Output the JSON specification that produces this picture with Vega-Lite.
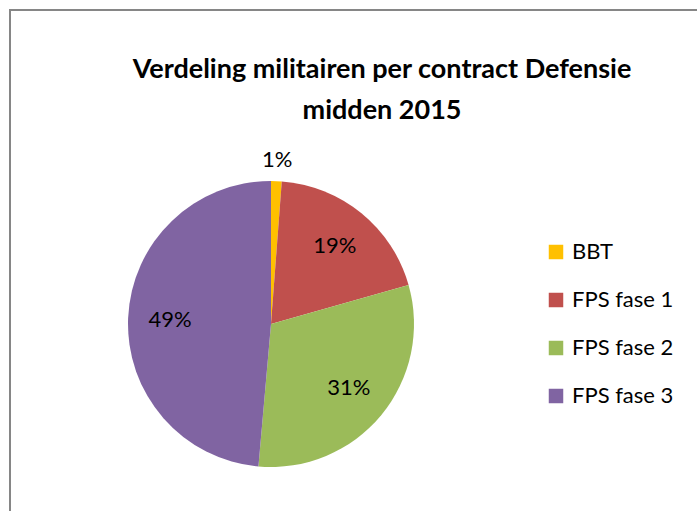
{
  "$schema": "https://vega.github.io/schema/vega-lite/v6.json",
  "autosize": {"type": "none"},
  "width": 700,
  "height": 510,
  "padding": {"left": 10, "top": 10, "right": 0, "bottom": 0},
  "background": "white",
  "config": {
    "view": {"stroke": "#868686", "strokeWidth": 2},
    "font": "Lato"
  },
  "title": {
    "text": ["Verdeling militairen per contract Defensie", "midden 2015"],
    "font": "Lato",
    "fontSize": 27,
    "fontWeight": "bold",
    "color": "#000000",
    "anchor": "middle",
    "lineHeight": 41,
    "baseline": "top",
    "offset": 0,
    "dx": 22,
    "dy": 115
  },
  "data": {
    "values": [
      {"categorie": "BBT", "aandeel": 0.012},
      {"categorie": "FPS fase 1", "aandeel": 0.194},
      {"categorie": "FPS fase 2", "aandeel": 0.308},
      {"categorie": "FPS fase 3", "aandeel": 0.486}
    ]
  },
  "encoding": {
    "theta": {"field": "aandeel", "type": "quantitative", "stack": true},
    "order": {"field": "categorie", "sort": "ascending"},
    "x": {"value": 261},
    "y": {"value": 314}
  },
  "layer": [
    {
      "mark": {"type": "arc", "outerRadius": 143},
      "encoding": {
        "color": {
          "field": "categorie",
          "type": "nominal",
          "scale": {
            "domain": ["BBT", "FPS fase 1", "FPS fase 2", "FPS fase 3"],
            "range": ["#FFC000", "#C0504D", "#9BBB59", "#8064A2"]
          },
          "legend": {
            "title": null,
            "orient": "none",
            "legendX": 535,
            "legendY": 231,
            "padding": 0,
            "symbolType": "square",
            "symbolSize": 210,
            "symbolStrokeWidth": 0,
            "labelFont": "Lato",
            "labelFontSize": 22,
            "labelColor": "#000000",
            "labelOffset": 5,
            "rowPadding": 26,
            "labelLimit": 200
          }
        }
      }
    },
    {
      "mark": {"type": "text", "radius": 101, "fontSize": 22, "font": "Lato", "color": "#000000"},
      "encoding": {
        "text": {
          "condition": {"test": "datum.categorie !== 'BBT'", "field": "aandeel", "type": "quantitative", "format": ".0%"},
          "value": ""
        }
      }
    },
    {
      "mark": {"type": "text", "radius": 164, "fontSize": 22, "font": "Lato", "color": "#000000"},
      "encoding": {
        "text": {
          "condition": {"test": "datum.categorie === 'BBT'", "field": "aandeel", "type": "quantitative", "format": ".0%"},
          "value": ""
        }
      }
    }
  ]
}
